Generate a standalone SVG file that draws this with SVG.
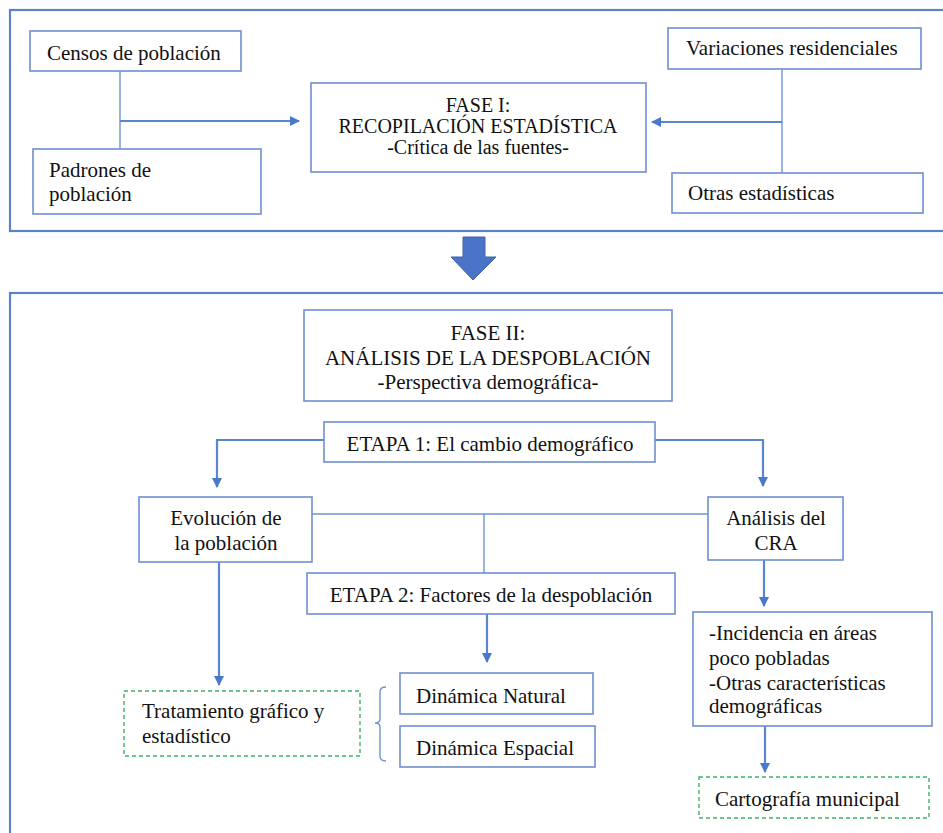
<svg xmlns="http://www.w3.org/2000/svg" width="943" height="833" viewBox="0 0 943 833">
<defs>
<marker id="ah" markerWidth="10" markerHeight="10" refX="9" refY="5" orient="auto" markerUnits="userSpaceOnUse">
<path d="M0,0 L10,5 L0,10 Z" fill="#4a78cc"/>
</marker>
<style>
.frame{fill:#fff;stroke:#5b84c8;stroke-width:2.2}
.box{fill:#fff;stroke:#6f8fcf;stroke-width:1.6}
.dash{fill:#fff;stroke:#3cb36a;stroke-width:1.4;stroke-dasharray:4 3}
.ln{fill:none;stroke:#6f94d4;stroke-width:1.4}
.ar{fill:none;stroke:#5a86d0;stroke-width:2.2;marker-end:url(#ah)}
text{font-family:'Liberation Serif','DejaVu Serif',serif;font-size:21px;fill:#111}
.c{text-anchor:middle}
.s{font-size:20px}
</style>
</defs>
<rect width="943" height="833" fill="#fff"/>
<g id="frame1"><rect class="frame" x="10" y="10" width="945" height="221"/></g>
<g id="frame2"><rect class="frame" x="10" y="293" width="945" height="560"/></g>

<g id="connectors">
<polyline class="ln" points="120,71 120,149"/>
<line class="ar" x1="120" y1="121" x2="299" y2="121"/>
<polyline class="ln" points="782,69 782,173"/>
<line class="ar" x1="782" y1="122" x2="652" y2="122"/>
<polyline class="ar" points="324,440 217,440 217,487"/>
<polyline class="ar" points="655,440 763,440 763,486"/>
<line class="ln" x1="312" y1="514" x2="708" y2="514"/>
<line class="ln" x1="484" y1="514" x2="484" y2="573"/>
<line class="ar" x1="487" y1="614" x2="487" y2="662"/>
<line class="ar" x1="219" y1="562" x2="219" y2="685"/>
<line class="ar" x1="764" y1="560" x2="764" y2="606"/>
<line class="ar" x1="765" y1="726" x2="765" y2="772"/>
<path class="ln" d="M386,687 Q380,687 380,692 L380,719 Q380,723 375,723 Q380,723 380,727 L380,756 Q380,761 386,761"/>
<path d="M463,237 L485,237 L485,257 L496,257 L473,280 L451,257 L463,257 Z" fill="#4a74c8" stroke="#3d62ad" stroke-width="1"/>
</g>

<g id="censos"><rect class="box" x="30" y="31" width="211" height="40"/><text x="47" y="60">Censos de población</text></g>
<g id="padrones"><rect class="box" x="33" y="149" width="228" height="65"/><text x="49" y="177">Padrones de</text><text x="49" y="201">población</text></g>
<g id="fase1"><rect class="box" x="311" y="83" width="335" height="89"/>
<text class="c s" x="478" y="112">FASE I:</text>
<text class="c s" x="478" y="133">RECOPILACIÓN ESTADÍSTICA</text>
<text class="c s" x="478" y="154">-Crítica de las fuentes-</text></g>
<g id="variaciones"><rect class="box" x="668" y="28" width="253" height="41"/><text x="686" y="55">Variaciones residenciales</text></g>
<g id="otras"><rect class="box" x="672" y="173" width="251" height="40"/><text x="688" y="200">Otras estadísticas</text></g>

<g id="fase2"><rect class="box" x="304" y="310" width="368" height="91"/>
<text class="c" x="488" y="340">FASE II:</text>
<text class="c" x="488" y="365">ANÁLISIS DE LA DESPOBLACIÓN</text>
<text class="c" x="488" y="389">-Perspectiva demográfica-</text></g>
<g id="etapa1"><rect class="box" x="324" y="422" width="331" height="40"/><text class="c" x="490" y="451">ETAPA 1: El cambio demográfico</text></g>
<g id="evolucion"><rect class="box" x="139" y="497" width="173" height="65"/><text class="c" x="226" y="525">Evolución de</text><text class="c" x="226" y="550">la población</text></g>
<g id="analisis"><rect class="box" x="708" y="497" width="135" height="63"/><text class="c" x="776" y="525">Análisis del</text><text class="c" x="776" y="550">CRA</text></g>
<g id="etapa2"><rect class="box" x="307" y="573" width="368" height="41"/><text class="c" x="491" y="602">ETAPA 2: Factores de la despoblación</text></g>
<g id="natural"><rect class="box" x="400" y="673" width="193" height="41"/><text x="416" y="703">Dinámica Natural</text></g>
<g id="espacial"><rect class="box" x="400" y="726" width="195" height="41"/><text x="416" y="755">Dinámica Espacial</text></g>
<g id="tratamiento"><rect class="dash" x="124" y="691" width="236" height="65"/><text x="142" y="718">Tratamiento gráfico y</text><text x="142" y="743">estadístico</text></g>
<g id="incidencia"><rect class="box" x="693" y="612" width="239" height="114"/>
<text x="709" y="640">-Incidencia en áreas</text>
<text x="709" y="665">poco pobladas</text>
<text x="709" y="690">-Otras características</text>
<text x="709" y="713">demográficas</text></g>
<g id="cartografia"><rect class="dash" x="699" y="777" width="230" height="41"/><text x="715" y="806">Cartografía municipal</text></g>
</svg>
